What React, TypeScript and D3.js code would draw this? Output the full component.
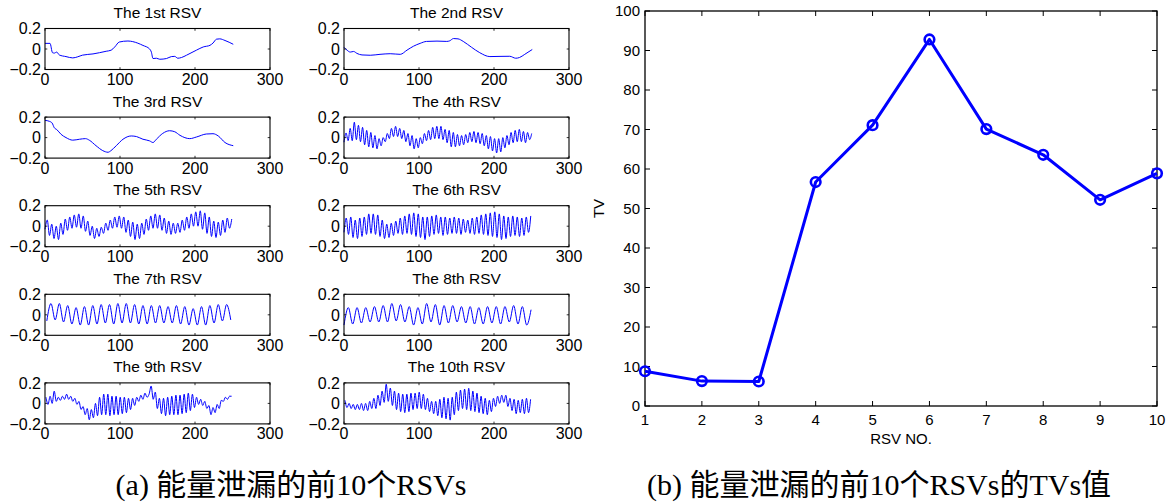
import React from 'react';
import * as d3 from 'd3';

// ---------- DATA ----------
const rsvTitles = [
  'The 1st RSV', 'The 2nd RSV', 'The 3rd RSV', 'The 4th RSV', 'The 5th RSV',
  'The 6th RSV', 'The 7th RSV', 'The 8th RSV', 'The 9th RSV', 'The 10th RSV',
];
const smallXTicks = [0, 100, 200, 300];
const smallYTicks = [-0.2, 0, 0.2];
const smallYTickLabels = ['\u22120.2', '0', '0.2'];

// slowly varying RSVs: [sample index, value]
const rsv1: [number, number][] = [
  [0, 0.055], [6.7, 0.055], [10, -0.036], [12.5, -0.04], [15.6, -0.03], [19, -0.058], [28, -0.074],
  [37, -0.087], [43.7, -0.076], [50, -0.06], [64, -0.048], [81.6, -0.022], [88, -0.012], [93, 0.02],
  [99, 0.068], [110.6, 0.078], [117, 0.072], [130.6, 0.035], [139.5, 0.0], [141.8, -0.03], [144, -0.093],
  [148.5, -0.09], [153, -0.1], [162, -0.093], [168.5, -0.074], [173, -0.072], [177, -0.09], [182, -0.083],
  [188.6, -0.061], [202, -0.011], [211, 0.02], [220, 0.036], [224, 0.058], [228.7, 0.096], [233, 0.099],
  [240, 0.083], [251, 0.046],
];
const rsv2: [number, number][] = [
  [0, 0.017], [4, -0.011], [8.4, -0.03], [12.8, -0.024], [17.3, -0.043], [24, -0.058], [35, -0.061],
  [48, -0.052], [61.6, -0.046], [75, -0.052], [84, -0.011], [92.6, 0.027], [101.5, 0.055], [110, 0.074],
  [124, 0.077], [137, 0.074], [141, 0.08], [146, 0.102], [152, 0.099], [159, 0.074], [170, 0.017],
  [181, -0.036], [194.5, -0.074], [208, -0.072], [221, -0.071], [229, -0.09], [234, -0.083], [241, -0.052],
  [251, -0.005],
];
const rsv3: [number, number][] = [
  [0, 0.168], [5.8, 0.159], [9.4, 0.143], [12.5, 0.095], [15.6, 0.079], [21.4, 0.032], [28, 0],
  [37, -0.025], [46, -0.016], [54, -0.01], [59, -0.025], [68, -0.079], [77, -0.127], [84, -0.143],
  [88, -0.127], [95, -0.079], [104, -0.016], [115, 0.016], [122, 0.01], [130.6, -0.016], [139.5, -0.032],
  [144, -0.048], [148.5, -0.016], [157, 0.041], [166, 0.067], [173, 0.057], [180, 0.022], [193, -0.01],
  [202, 0.006], [215, 0.035], [224, 0.038], [231, 0.016], [240, -0.048], [251, -0.079],
];

// oscillating RSVs: successive extremes at evenly spaced sample indices (start, step)
const rsv4: number[] = [
  -0.045, 0.045, -0.03, 0.09, -0.03, 0.15, -0.02, 0.12, -0.04, 0.10, -0.07, 0.07, -0.09, 0.05, -0.10, 0.02,
  -0.11, -0.01, -0.08, 0.0, -0.04, 0.04, -0.01, 0.09, 0.01, 0.11, 0.01, 0.09, -0.01, 0.07, -0.04, 0.04,
  -0.08, 0.02, -0.11, -0.01, -0.10, 0.0, -0.06, 0.04, -0.03, 0.07, -0.02, 0.10, -0.01, 0.11, -0.01, 0.11,
  -0.02, 0.08, -0.05, 0.07, -0.09, 0.05, -0.09, 0.03, -0.08, 0.02, -0.07, 0.03, -0.05, 0.05, -0.04, 0.06,
  -0.05, 0.05, -0.06, 0.04, -0.08, 0.02, -0.11, 0.01, -0.13, -0.01, -0.15, -0.01, -0.14, 0.0, -0.10, 0.02,
  -0.07, 0.05, -0.05, 0.07, -0.04, 0.08, -0.04, 0.06, -0.05, 0.05, -0.02, 0.04,
];
const rsv5: number[] = [
  -0.03, 0.06, -0.09, 0.02, -0.12, 0.0, -0.13, 0.03, -0.08, 0.07, -0.04, 0.09, -0.02, 0.11, -0.01, 0.12,
  -0.02, 0.10, -0.05, 0.05, -0.09, 0.0, -0.12, -0.02, -0.10, -0.01, -0.07, 0.03, -0.04, 0.06, -0.02, 0.09,
  -0.01, 0.10, -0.02, 0.09, -0.06, 0.06, -0.10, 0.04, -0.13, 0.02, -0.12, 0.03, -0.08, 0.07, -0.04, 0.10,
  -0.02, 0.12, -0.02, 0.11, -0.04, 0.08, -0.07, 0.05, -0.08, 0.03, -0.07, 0.03, -0.06, 0.06, -0.04, 0.09,
  -0.02, 0.12, 0.0, 0.14, 0.0, 0.15, -0.03, 0.13, -0.07, 0.09, -0.10, 0.05, -0.11, 0.04, -0.09, 0.06,
  -0.06, 0.08, -0.02, 0.07,
];
const rsv6: number[] = [
  -0.06, 0.08, -0.08, 0.09, -0.11, 0.06, -0.12, 0.08, -0.10, 0.09, -0.08, 0.12, -0.07, 0.12, -0.08, 0.11,
  -0.10, 0.06, -0.12, 0.02, -0.11, 0.03, -0.09, 0.05, -0.07, 0.08, -0.08, 0.10,
  -0.07, 0.12, -0.08, 0.13, -0.10, 0.12, -0.11, 0.09, -0.13, 0.09, -0.10, 0.10,
  -0.08, 0.11, -0.07, 0.09, -0.09, 0.09, -0.08, 0.08, -0.07, 0.09, -0.07, 0.08, -0.08, 0.07, -0.06, 0.06, -0.07, 0.08,
  -0.08, 0.09, -0.07, 0.11, -0.08, 0.12, -0.09, 0.13, -0.10, 0.14, -0.11, 0.12, -0.13, 0.10, -0.12, 0.09,
  -0.10, 0.10, -0.09, 0.09, -0.10, 0.08, -0.09, 0.09, -0.06, 0.10,
];
const rsv7: number[] = [
  -0.06, 0.11, -0.05, 0.11, -0.07, 0.09, -0.09, 0.07, -0.10, 0.08, -0.10, 0.09, -0.09, 0.10, -0.08, 0.10,
  -0.09, 0.11, -0.08, 0.11, -0.08, 0.10, -0.09, 0.09, -0.09, 0.09, -0.08, 0.09, -0.08, 0.08, -0.08, 0.09,
  -0.09, 0.08, -0.10, 0.06, -0.10, 0.08, -0.10, 0.09, -0.08, 0.10, -0.06, 0.10, -0.05,
];
const rsv8: number[] = [
  -0.10, 0.07, -0.09, 0.07, -0.08, 0.07, -0.07, 0.08, -0.07, 0.09, -0.07, 0.11, -0.06, 0.10, -0.07, 0.08,
  -0.10, 0.07, -0.09, 0.11, -0.07, 0.10, -0.10, 0.09, -0.08, 0.09, -0.07, 0.08, -0.08, 0.08, -0.09, 0.07,
  -0.09, 0.08, -0.08, 0.08, -0.09, 0.08, -0.07, 0.09, -0.09, 0.08, -0.10, 0.05,
];
const rsv9: number[] = [
  0.06, -0.01, 0.07, 0.0, 0.12, 0.02, 0.06, 0.03, 0.07, 0.04, 0.09, 0.04, 0.07, 0.02, 0.05, -0.01,
  0.02, -0.06, -0.03, -0.11, -0.05, -0.16, -0.06, -0.14, 0.0, -0.12, 0.06, -0.11, 0.09, -0.11, 0.09, -0.12,
  0.07, -0.11, 0.07, -0.11, 0.06, -0.10, 0.06, -0.09, 0.05, -0.06, 0.05, -0.02, 0.06, 0.02, 0.08, 0.04,
  0.10, 0.06, 0.09, 0.17, 0.04, 0.11, -0.05, 0.05, -0.10, 0.05, -0.12, 0.06, -0.11, 0.07, -0.11, 0.08,
  -0.11, 0.08, -0.10, 0.09, -0.09, 0.10, -0.07, 0.09, -0.04, 0.06, -0.01, 0.04, -0.02, 0.02, -0.05, -0.02,
  -0.11, -0.04, -0.09, -0.01, -0.05, 0.03, 0.02, 0.06, 0.04, 0.07, 0.07,
];
const rsv10: number[] = [
  0.03, -0.04, 0.0, -0.05, -0.01, -0.06, -0.01, -0.06, 0.0, -0.07, 0.0, -0.07, 0.02, -0.05, 0.05, -0.05,
  0.08, -0.02, 0.12, 0.01, 0.187, 0.02, 0.15, -0.02, 0.12, -0.06, 0.10, -0.08, 0.09, -0.09, 0.09, -0.08,
  0.10, -0.06, 0.10, -0.05, 0.11, -0.05, 0.09, -0.06, 0.05, -0.08, 0.02, -0.10, 0.02, -0.12, 0.04, -0.14,
  0.06, -0.15, 0.05, -0.163, 0.06, -0.11, 0.11, -0.07, 0.13, -0.05, 0.14, -0.06, 0.147, -0.07, 0.12, -0.08,
  0.10, -0.09, 0.07, -0.10, 0.05, -0.11, 0.03, -0.08, 0.05, -0.03, 0.07, 0.0, 0.08, 0.01, 0.08, -0.03,
  0.05, -0.07, 0.04, -0.10, 0.03, -0.09, 0.04, -0.10, 0.05, -0.09, 0.04,
];
const sampledSeries = [rsv4, rsv5, rsv6, rsv7, rsv8, rsv9, rsv10];
const sampledStart = [0, 0, 0, 2.4, 0, 1.3, 1.3];
const sampledStep = [2.75, 3, 3, 5.575, 5.8, 2.75, 2.75];

// TV values of the first 10 RSVs
const rsvNo = [1, 2, 3, 4, 5, 6, 7, 8, 9, 10];
const tvValues = [8.8, 6.3, 6.2, 56.7, 71.1, 92.8, 70.1, 63.6, 52.2, 58.9];
const tvYTicks = [0, 10, 20, 30, 40, 50, 60, 70, 80, 90, 100];

const captionA = '(a) 能量泄漏的前10个RSVs';
const captionB = '(b) 能量泄漏的前10个RSVs的TVs值';

// ---------- LAYOUT ----------
const W = 1173;
const H = 502;
const SANS = '"Liberation Sans", Arial, Helvetica, sans-serif';
const SERIF = '"Liberation Serif", "Times New Roman", "Noto Sans CJK SC", serif';
const BLUE = '#0000ff';

const colLeft = [45, 344];
const boxW = 225;
const rowTop = [28.5, 117.1, 205.7, 294.3, 382.9];
const boxH = 41;

function seriesPoints(i: number): [number, number][] {
  if (i === 0) return rsv1;
  if (i === 1) return rsv2;
  if (i === 2) return rsv3;
  const k = i - 3;
  return sampledSeries[k].map((v, j) => [sampledStart[k] + j * sampledStep[k], v] as [number, number]);
}

function SmallPanel({ i }: { i: number }) {
  const left = colLeft[i % 2];
  const top = rowTop[Math.floor(i / 2)];
  const x = d3.scaleLinear().domain([0, 300]).range([left, left + boxW]);
  const y = d3.scaleLinear().domain([-0.2, 0.2]).range([top + boxH, top]);
  const line = d3
    .line<[number, number]>()
    .x((d) => x(d[0]))
    .y((d) => y(d[1]))
    .curve(d3.curveMonotoneX);
  const tl = 2.3;
  return (
    <g>
      <text x={(left + left + boxW) / 2} y={top - 10.5} textAnchor="middle" fontFamily={SANS} fontSize={15.5}>
        {rsvTitles[i]}
      </text>
      <path d={line(seriesPoints(i)) || ''} fill="none" stroke={BLUE} strokeWidth={1} />
      {smallXTicks.map((t) => (
        <g key={'x' + t}>
          <line x1={x(t)} x2={x(t)} y1={top + boxH} y2={top + boxH - tl} stroke="#000" strokeWidth={0.8} />
          <line x1={x(t)} x2={x(t)} y1={top} y2={top + tl} stroke="#000" strokeWidth={0.8} />
          <text x={x(t)} y={top + boxH + 15.5} textAnchor="middle" fontFamily={SANS} fontSize={16}>
            {t}
          </text>
        </g>
      ))}
      {smallYTicks.map((t, k) => (
        <g key={'y' + t}>
          <line x1={left} x2={left + tl} y1={y(t)} y2={y(t)} stroke="#000" strokeWidth={0.8} />
          <line x1={left + boxW} x2={left + boxW - tl} y1={y(t)} y2={y(t)} stroke="#000" strokeWidth={0.8} />
          <text x={left - 4} y={y(t)} dy="0.36em" textAnchor="end" fontFamily={SANS} fontSize={16}>
            {smallYTickLabels[k]}
          </text>
        </g>
      ))}
      <rect x={left} y={top} width={boxW} height={boxH} fill="none" stroke="#000" strokeWidth={1.1} />
    </g>
  );
}

function TVPanel() {
  const left = 645;
  const right = 1157;
  const top = 11;
  const bottom = 406;
  const x = d3.scaleLinear().domain([1, 10]).range([left, right]);
  const y = d3.scaleLinear().domain([0, 100]).range([bottom, top]);
  const line = d3
    .line<number>()
    .x((_, j) => x(rsvNo[j]))
    .y((d) => y(d));
  const tl = 5;
  return (
    <g>
      {rsvNo.map((t) => (
        <g key={'x' + t}>
          <line x1={x(t)} x2={x(t)} y1={bottom} y2={bottom - tl} stroke="#000" strokeWidth={1} />
          <line x1={x(t)} x2={x(t)} y1={top} y2={top + tl} stroke="#000" strokeWidth={1} />
          <text x={x(t)} y={bottom + 19} textAnchor="middle" fontFamily={SANS} fontSize={15}>
            {t}
          </text>
        </g>
      ))}
      {tvYTicks.map((t) => (
        <g key={'y' + t}>
          <line x1={left} x2={left + tl} y1={y(t)} y2={y(t)} stroke="#000" strokeWidth={1} />
          <line x1={right} x2={right - tl} y1={y(t)} y2={y(t)} stroke="#000" strokeWidth={1} />
          <text x={left - 5} y={y(t)} dy="0.36em" textAnchor="end" fontFamily={SANS} fontSize={15}>
            {t}
          </text>
        </g>
      ))}
      <rect x={left} y={top} width={right - left} height={bottom - top} fill="none" stroke="#000" strokeWidth={1.3} />
      <path d={line(tvValues) || ''} fill="none" stroke={BLUE} strokeWidth={3} strokeLinejoin="round" />
      {tvValues.map((v, j) => (
        <circle key={j} cx={x(rsvNo[j])} cy={y(v)} r={4.8} fill="none" stroke={BLUE} strokeWidth={2.6} />
      ))}
      <text x={(left + right) / 2} y={444} textAnchor="middle" fontFamily={SANS} fontSize={15}>
        RSV NO.
      </text>
      <text
        x={604}
        y={(top + bottom) / 2}
        textAnchor="middle"
        fontFamily={SANS}
        fontSize={15}
        transform={`rotate(-90, 604, ${(top + bottom) / 2})`}
      >
        TV
      </text>
    </g>
  );
}

export default function App() {
  return (
    <svg
      width={W}
      height={H}
      viewBox={`0 0 ${W} ${H}`}
      style={{ position: 'absolute', left: 0, top: 0, background: '#fff' }}
    >
      <rect x={0} y={0} width={W} height={H} fill="#fff" />
      {rsvTitles.map((_, i) => (
        <SmallPanel key={i} i={i} />
      ))}
      <TVPanel />
      <text x={291} y={495} textAnchor="middle" fontFamily={SERIF} fontSize={30}>
        {captionA}
      </text>
      <text x={879} y={495} textAnchor="middle" fontFamily={SERIF} fontSize={30}>
        {captionB}
      </text>
    </svg>
  );
}
